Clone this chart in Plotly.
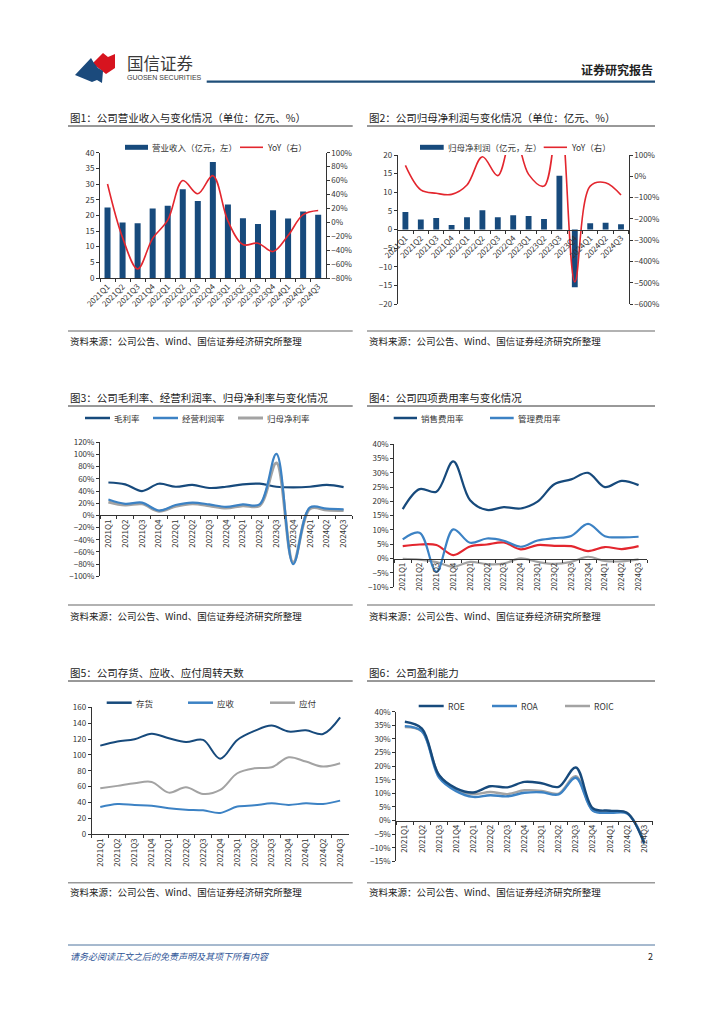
import plotly.graph_objects as go

W, H = 724, 1024
def X(px): return px / W
def Y(py): return 1 - py / H

FONT = "Noto Sans CJK SC"
DB = "#174A7C"
MB = "#3C82C4"
GR = "#A3A3A3"
RD = "#E3262E"
TXT = "#333333"

# ---------------- data ----------------
quarters = ["2021Q1", "2021Q2", "2021Q3", "2021Q4", "2022Q1", "2022Q2", "2022Q3", "2022Q4",
            "2023Q1", "2023Q2", "2023Q3", "2023Q4", "2024Q1", "2024Q2", "2024Q3"]

revenue = [22.5, 17.7, 17.5, 22.2, 23.1, 28.3, 24.6, 37.0, 23.5, 19.1, 17.2, 21.6, 19.0, 21.2, 20.2]
revenue_yoy = [55, -22, -67, -23, 3, 60, 41, 67, 2, -32, -30, -42, -19, 11, 17]

net_profit = [4.7, 2.7, 3.1, 1.2, 3.3, 5.2, 3.3, 3.8, 3.6, 2.8, 14.4, -15.5, 1.7, 1.8, 1.4]
net_profit_yoy = [51, -64, -80, -85, -41, 92, 3, 217, 9, -46, 336, -496, -46, -30, -88]

gross_margin = [54, 51, 40, 52, 47, 50, 45, 47, 51, 52, 47, 46, 47, 50, 46.5]
operating_margin = [26, 19, 21, 8, 17, 21, 18, 14, 18, 18, 101, -80, 13, 11, 10]
net_margin = [22, 17, 19, 7, 15, 19, 16, 12, 16, 16, 86, -77, 11, 9, 8]

selling_rate = [17.3, 24.3, 23.4, 34.0, 20.4, 17.0, 18.0, 17.5, 19.9, 26.0, 27.7, 30.0, 25.0, 27.2, 25.7]
admin_rate = [6.7, 9.0, -4.7, 10.2, 5.5, 7.0, 6.2, 4.1, 6.3, 7.1, 7.9, 12.1, 7.8, 7.4, 7.6]
rd_rate = [4.3, 4.9, 4.7, 1.2, 4.2, 4.9, 5.6, 3.2, 4.7, 4.4, 4.3, 2.6, 4.0, 3.3, 4.3]
fin_rate = [-0.1, -0.4, -1.3, -2.9, -1.2, -2.0, -1.8, 0.0, -1.2, -1.9, -1.2, 0.6, -0.9, -1.0, -0.3]

inventory_days = [111.7, 116.8, 119.7, 126.8, 121.0, 116.3, 118.9, 95.3, 118.9, 130.2, 137.0, 129.4, 131.0, 126.4, 147.4]
receivable_days = [34.4, 38.2, 37.0, 36.1, 32.8, 31.0, 30.2, 26.9, 34.9, 36.5, 39.0, 37.0, 39.0, 38.2, 42.4]
payable_days = [58.0, 61.0, 64.3, 66.0, 52.5, 59.2, 50.8, 55.9, 76.9, 83.2, 84.4, 97.0, 91.6, 85.3, 89.5]

roe = [36.3, 33.8, 16.7, 11.8, 10.3, 12.6, 12.2, 14.2, 13.7, 12.4, 19.5, 4.5, 3.6, 2.8, -8.5]
roa = [34.7, 32.8, 15.8, 10.8, 8.7, 9.3, 8.9, 10.2, 10.4, 9.6, 15.7, 3.6, 2.8, 2.6, -7.8]
roic = [34.4, 32.8, 16.7, 11.4, 9.7, 10.5, 9.7, 11.1, 10.9, 9.9, 16.3, 3.8, 3.1, 2.8, -7.8]

titles = ["图1：公司营业收入与变化情况（单位：亿元、%）",
          "图2：公司归母净利润与变化情况（单位：亿元、%）",
          "图3：公司毛利率、经营利润率、归母净利率与变化情况",
          "图4：公司四项费用率与变化情况",
          "图5：公司存货、应收、应付周转天数",
          "图6：公司盈利能力"]
source_text = "资料来源：公司公告、Wind、国信证券经济研究所整理"

# ---------------- figure ----------------
fig = go.Figure()

def line(x, y, xa, ya, color, width=2.5, name=None):
    fig.add_trace(go.Scatter(x=x, y=y, mode="lines", name=name, xaxis=xa, yaxis=ya,
                             line=dict(color=color, width=width, shape="spline", smoothing=1.0),
                             showlegend=False, hoverinfo="skip"))

# Chart 1
fig.add_trace(go.Bar(x=quarters, y=revenue, xaxis="x", yaxis="y", marker=dict(color=DB, line=dict(width=0)),
                     width=0.4, showlegend=False, name="营业收入（亿元，左）"))
line(quarters, revenue_yoy, "x", "y7", RD, 1.6, "YoY（右）")
# Chart 2
fig.add_trace(go.Bar(x=quarters, y=net_profit, xaxis="x2", yaxis="y2", marker=dict(color=DB, line=dict(width=0)),
                     width=0.38, showlegend=False, name="归母净利润（亿元，左）"))
line(quarters, net_profit_yoy, "x2", "y8", RD, 1.6, "YoY（右）")
# Chart 3
line(quarters, gross_margin, "x3", "y3", DB, 2.2, "毛利率")
line(quarters, net_margin, "x3", "y3", GR, 3.0, "归母净利率")
line(quarters, operating_margin, "x3", "y3", MB, 2.2, "经营利润率")
# Chart 4
line(quarters, fin_rate, "x4", "y4", GR, 2.2, "财务费用率")
line(quarters, rd_rate, "x4", "y4", RD, 2.2, "研发费用率")
line(quarters, admin_rate, "x4", "y4", MB, 2.2, "管理费用率")
line(quarters, selling_rate, "x4", "y4", DB, 2.2, "销售费用率")
# Chart 5
line(quarters, inventory_days, "x5", "y5", DB, 2.0, "存货")
line(quarters, receivable_days, "x5", "y5", MB, 2.0, "应收")
line(quarters, payable_days, "x5", "y5", GR, 2.0, "应付")
# Chart 6
line(quarters, roic, "x6", "y6", GR, 2.4, "ROIC")
line(quarters, roa, "x6", "y6", MB, 2.4, "ROA")
line(quarters, roe, "x6", "y6", DB, 2.4, "ROE")

common = dict(showline=True, linecolor="#333", linewidth=1, ticks="outside", tickcolor="#333",
              ticklen=3, tickwidth=1, tickfont=dict(size=8, color=TXT, family=FONT),
              showgrid=False, zeroline=False, fixedrange=True, automargin=False)

def xax(domain, anchor, position=None, angle=-90):
    d = dict(common, type="category", range=[-0.5, 14.5], tickson="boundaries",
             domain=domain, tickangle=angle)
    if position is None:
        d["anchor"] = anchor
    else:
        d["anchor"] = "free"
        d["position"] = position
    return d

def yax(domain, anchor, rng, dtick, suffix="", side="left", overlay=None):
    d = dict(common, range=rng, dtick=dtick, ticksuffix=suffix, anchor=anchor, side=side)
    if overlay:
        d["overlaying"] = overlay
    else:
        d["domain"] = domain
    return d

layout = dict(
    width=W, height=H, margin=dict(l=0, r=0, t=0, b=0, pad=0, autoexpand=False),
    paper_bgcolor="white", plot_bgcolor="white",
    font=dict(family=FONT, color=TXT), bargap=0.6, showlegend=False,
    xaxis=xax([X(100), X(325.7)], "y", angle=-45),
    yaxis=yax([Y(278), Y(152.7)], "x", [0, 40], 5),
    yaxis7=yax(None, "x", [-80, 100], 20, "%", side="right", overlay="y"),
    xaxis2=xax([X(397.7), X(628.7)], None, position=Y(229.5), angle=-45),
    yaxis2=yax([Y(304), Y(155)], "x2", [-20, 20], 5),
    yaxis8=yax(None, "x2", [-600, 100], 100, "%", side="right", overlay="y2"),
    xaxis3=xax([X(100), X(352)], None, position=Y(515.4)),
    yaxis3=yax([Y(576.3), Y(442.3)], "x3", [-100, 120], 20, "%"),
    xaxis4=xax([X(394.3), X(647)], None, position=Y(558.5)),
    yaxis4=yax([Y(587), Y(444.3)], "x4", [-10, 40], 5, "%"),
    xaxis5=xax([X(91.7), X(348.7)], "y5"),
    yaxis5=yax([Y(834.3), Y(707.3)], "x5", [0, 160], 20),
    xaxis6=xax([X(396.3), X(652.7)], None, position=Y(820.5)),
    yaxis6=yax([Y(861.3), Y(711.7)], "x6", [-15, 40], 5, "%"),
)
fig.update_layout(**layout)

shapes = []
annos = []

def hline(x0, x1, y, color, width):
    shapes.append(dict(type="line", xref="paper", yref="paper", x0=X(x0), x1=X(x1), y0=Y(y), y1=Y(y),
                       line=dict(color=color, width=width)))

def text(x, y, s, size, color=TXT, xanchor="left", bold=False, italic=False, family=FONT):
    if bold:
        s = "<b>" + s + "</b>"
    if italic:
        s = "<i>" + s + "</i>"
    annos.append(dict(xref="paper", yref="paper", x=X(x), y=Y(y), text=s, showarrow=False,
                      xanchor=xanchor, yanchor="middle", font=dict(size=size, color=color, family=family)))

def path(points, color):
    p = "M " + " L ".join(f"{X(a):.5f},{Y(b):.5f}" for a, b in points) + " Z"
    shapes.append(dict(type="path", xref="paper", yref="paper", path=p, fillcolor=color,
                       line=dict(width=0)))

# Header
path([(92, 64), (103, 53), (108, 57), (115, 54), (115, 68), (106, 74), (101, 70), (97, 67)], "#D7141F")
path([(75, 75), (91, 58), (94, 63), (98, 68), (103, 71), (102, 83), (97, 80), (92, 82)], "#1B4A7C")
text(125, 62.5, "国信证券", 16.5, "#3a3a3a")
text(125, 77, "GUOSEN SECURITIES", 7, "#3a3a3a", family="Liberation Sans")
text(655, 69, "证券研究报告", 12, "#222", xanchor="right", bold=True)
hline(206.7, 655, 81.7, "#1F4E79", 2.2)

# Titles & sources
cols = [(68, 352.7), (367, 655)]
rows = [(117, 126, 331, 341), (397, 406, 605, 615.5), (672, 681, 882.7, 892)]
for i, t in enumerate(titles):
    r = rows[i // 2]
    c = cols[i % 2]
    text(c[0], r[0], t, 10.5, "#222")
    hline(c[0], c[1], r[1], "#333", 1)
    hline(c[0], c[1], r[2], "#999", 1.5)
    text(c[0], r[3], source_text, 9.5, "#222")

# Legends
def leg_line(x0, x1, y, color, label, width=2.5):
    hline(x0, x1, y, color, width)
    text(x1 + 2, y, label, 8.5)

def leg_bar(x0, x1, y, color, label):
    shapes.append(dict(type="rect", xref="paper", yref="paper", x0=X(x0), x1=X(x1), y0=Y(y + 2.5), y1=Y(y - 2.5),
                       fillcolor=color, line=dict(width=0)))
    text(x1 + 2, y, label, 8.5)

leg_bar(125, 148, 147.3, DB, "营业收入（亿元，左）")
leg_line(240, 263, 147.3, RD, "YoY（右）", 1.6)
leg_bar(420, 443.7, 147.3, DB, "归母净利润（亿元，左）")
leg_line(543.7, 567, 147.3, RD, "YoY（右）", 1.6)

leg_line(85, 110, 418, DB, "毛利率")
leg_line(153, 178, 418, MB, "经营利润率")
leg_line(238, 263, 418, GR, "归母净利率", 3)

leg_line(393.7, 417, 418, DB, "销售费用率")
leg_line(490, 513.7, 418, MB, "管理费用率")

leg_line(106.7, 131.7, 702.7, DB, "存货")
leg_line(188, 213, 702.7, MB, "应收")
leg_line(270, 295, 702.7, GR, "应付")

leg_line(418.7, 443.7, 706, DB, "ROE")
leg_line(492, 517, 706, MB, "ROA")
leg_line(565, 590, 706, GR, "ROIC")

# Footer
hline(68, 655, 945, "#4F759E", 1)
text(68, 956, "请务必阅读正文之后的免责声明及其项下所有内容", 9, "#2F5597", italic=True)
text(655, 956, "2", 9, "#222", xanchor="right")

fig.update_layout(shapes=shapes, annotations=annos)
fig.write_html("out.html", config={"displayModeBar": False},
               post_script="document.body.style.margin='0';document.body.style.overflow='hidden';")
